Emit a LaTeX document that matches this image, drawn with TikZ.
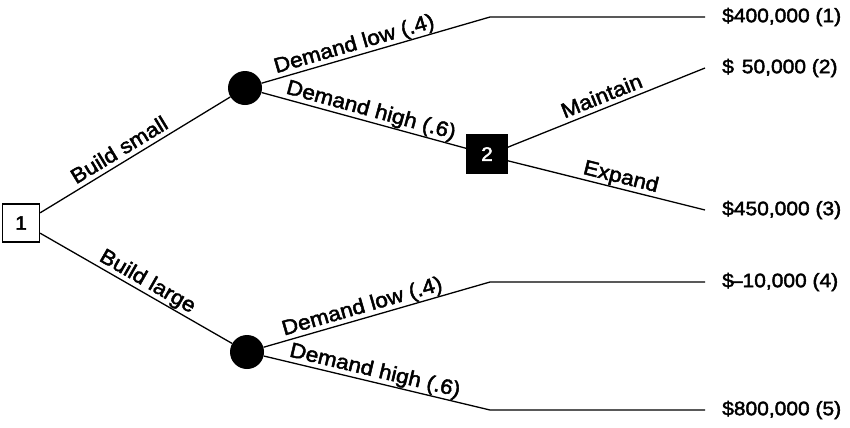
\documentclass[tikz,border=0pt]{standalone}
\usepackage{fontspec}
\setmainfont{Liberation Sans}[FakeStretch=1.08, FakeBold=2.2]
\begin{document}
\begin{tikzpicture}[x=1bp,y=-1bp,
  font=\fontsize{19.5}{22}\selectfont,
  branch/.style={line width=1.3bp},
  decision/.style={draw, line width=1.2bp, minimum width=37bp, minimum height=38bp, inner sep=0pt},
  chance/.style={circle, fill=black, minimum size=34bp, inner sep=0pt},
  payoff/.style={anchor=west, inner xsep=0pt},
  lbl/.style={sloped, anchor=base, inner sep=0pt, font=\fontsize{21}{24}\selectfont}]
\newcommand\lift[1]{\raisebox{5.5bp}{#1}}
\useasboundingbox (0,0) rectangle (850,427);

% decision and chance nodes
\node[decision] (b1) at (21,223) {1};
\node[chance] (c1) at (245,88) {};
\node[chance] (c2) at (247,352) {};
\node[decision, fill=black, text=white, minimum width=40bp] (b2) at (487,154) {2};

% knees of the flat end branches
\coordinate (k1) at (490,17);
\coordinate (k4) at (490,282);
\coordinate (k5) at (490,410);

% payoffs
\node[payoff] (t1) at (722,17) {\$400,000 (1)};
\node[payoff] (t2) at (722,68) {\$\hspace{8bp}50,000 (2)};
\node[payoff] (t3) at (722,210) {\$450,000 (3)};
\node[payoff] (t4) at (722,282) {\$\kern-3bp--10,000 (4)};
\node[payoff] (t5) at (722,410) {\$800,000 (5)};

% first decision
\draw[branch] (b1.28) -- node[lbl, pos=0.45] {\lift{Build small}} (c1);
\draw[branch] (b1.-28) -- node[lbl, pos=0.53] {\lift{Build large}} (c2);

% small plant
\draw[branch] (c1) -- node[lbl, pos=0.42] {\lift{Demand low (.4)}} (k1) -- ([xshift=-17bp]t1.west);
\draw[branch] (c1) -- node[lbl, pos=0.52] {\lift{Demand high (.6)}} (b2);
\draw[branch] (b2.18) -- node[lbl, pos=0.5] {\lift{Maintain}} ([xshift=-17bp]t2.west);
\draw[branch] (b2.-18) -- node[lbl, pos=0.56] {\lift{Expand}} ([xshift=-17bp]t3.west);

% large plant
\draw[branch] (c2) -- node[lbl, pos=0.45] {\lift{Demand low (.4)}} (k4) -- ([xshift=-17bp]t4.west);
\draw[branch] (c2) -- node[lbl, pos=0.48] {\lift{Demand high (.6)}} (k5) -- ([xshift=-17bp]t5.west);
\end{tikzpicture}
\end{document}
